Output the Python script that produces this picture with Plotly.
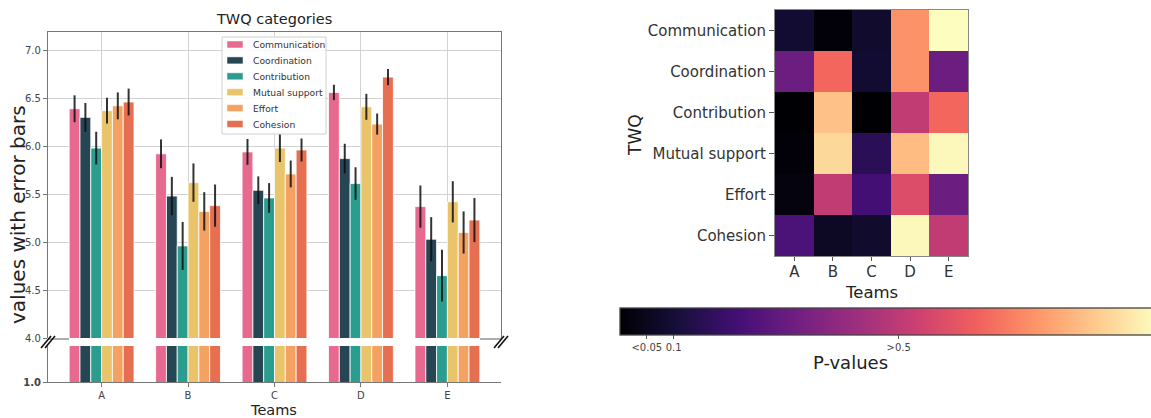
import plotly.graph_objects as go

W, H = 1151, 418

teams = ['A', 'B', 'C', 'D', 'E']
series_names = ['Communication', 'Coordination', 'Contribution', 'Mutual support', 'Effort', 'Cohesion']
communication = [6.39, 5.92, 5.94, 6.56, 5.37]
communication_err = [0.14, 0.15, 0.135, 0.08, 0.22]
coordination = [6.30, 5.48, 5.54, 5.87, 5.03]
coordination_err = [0.15, 0.20, 0.145, 0.155, 0.23]
contribution = [5.98, 4.96, 5.46, 5.61, 4.65]
contribution_err = [0.17, 0.25, 0.155, 0.17, 0.27]
mutual_support = [6.37, 5.62, 5.98, 6.41, 5.42]
mutual_support_err = [0.135, 0.20, 0.145, 0.135, 0.215]
effort = [6.42, 5.32, 5.71, 6.23, 5.10]
effort_err = [0.14, 0.20, 0.14, 0.11, 0.22]
cohesion = [6.46, 5.38, 5.96, 6.72, 5.23]
cohesion_err = [0.14, 0.22, 0.12, 0.085, 0.23]
series_colors = ['#e8698f', '#264653', '#2a9d8f', '#e9c46a', '#f4a261', '#e76f51']

twq_rows = ['Communication', 'Coordination', 'Contribution', 'Mutual support', 'Effort', 'Cohesion']
p_communication = [0.09, 0.01, 0.08, 0.77, 1.00]
p_coordination = [0.32, 0.68, 0.09, 0.77, 0.32]
p_contribution = [0.00, 0.87, 0.00, 0.53, 0.68]
p_mutual_support = [0.01, 0.92, 0.16, 0.86, 0.99]
p_effort = [0.02, 0.53, 0.22, 0.60, 0.32]
p_cohesion = [0.24, 0.06, 0.08, 0.99, 0.53]
cbar_tickvals = [0.05, 0.1, 0.52]
cbar_ticktext = ['<0.05', '0.1', '>0.5']

values = [communication, coordination, contribution, mutual_support, effort, cohesion]
errors = [communication_err, coordination_err, contribution_err, mutual_support_err, effort_err, cohesion_err]
pmatrix = [p_communication, p_coordination, p_contribution, p_mutual_support, p_effort, p_cohesion]


def px(x):
    return x / W


def py(y):
    return (H - y) / H


FONT = 'DejaVu Sans'
fig = go.Figure()

for name, v, e, c in zip(series_names, values, errors, series_colors):
    fig.add_trace(go.Bar(
        x=teams, y=v, name=name, marker=dict(color=c, line=dict(color='white', width=0.8)),
        error_y=dict(type='data', array=e, color='rgba(15,15,15,0.85)', thickness=2, width=0),
        xaxis='x', yaxis='y', showlegend=False))
for name, v, c in zip(series_names, values, series_colors):
    fig.add_trace(go.Bar(
        x=teams, y=v, name=name, marker=dict(color=c, line=dict(color='white', width=0.8)),
        xaxis='x2', yaxis='y2', showlegend=False, hoverinfo='skip'))

fig.add_trace(go.Heatmap(
    z=pmatrix, x=teams, y=twq_rows, colorscale='Magma', zmin=0, zmax=1,
    xaxis='x3', yaxis='y3', xgap=0, ygap=0,
    colorbar=dict(orientation='h', x=px(620), xanchor='left', y=py(308), yanchor='top',
                  lenmode='pixels', len=536, thickness=27, xpad=0, ypad=0,
                  outlinewidth=1.3, outlinecolor='#444',
                  tickvals=cbar_tickvals, ticktext=cbar_ticktext, ticks='outside', ticklen=4,
                  tickcolor='#555', tickfont=dict(family=FONT, size=10, color='#444'))))

xr = [-0.62, 4.62]
dom_x = [px(48), px(501)]
fig.update_layout(
    width=W, height=H, margin=dict(l=0, r=0, t=0, b=0, autoexpand=False),
    paper_bgcolor='white', plot_bgcolor='white',
    barmode='group', bargap=0.25, bargroupgap=0, showlegend=False,
    font=dict(family=FONT, color='#333'),
    xaxis=dict(domain=dom_x, anchor='y', type='category', range=xr, side='top',
               showticklabels=False, ticks='', showline=True, linecolor='#777', linewidth=1.2,
               showgrid=True, gridcolor='#d3d3d3', gridwidth=1, zeroline=False),
    yaxis=dict(domain=[py(338), py(32)], anchor='x', range=[4.0, 7.19],
               tickvals=[4.0, 4.5, 5.0, 5.5, 6.0, 6.5, 7.0], tickformat='.1f',
               ticks='outside', ticklen=4, tickcolor='#777',
               tickfont=dict(family=FONT, size=10, color='#444'),
               showline=True, mirror=True, linecolor='#777', linewidth=1.2,
               showgrid=True, gridcolor='#d3d3d3', gridwidth=1, zeroline=False),
    xaxis2=dict(domain=dom_x, anchor='y2', type='category', range=xr,
                ticks='outside', ticklen=4, tickcolor='#777',
                tickfont=dict(family=FONT, size=10, color='#444'),
                showline=True, linecolor='#777', linewidth=1.2, showgrid=False, zeroline=False),
    yaxis2=dict(domain=[py(382), py(346)], anchor='x2', range=[1.0, 4.0],
                tickvals=[1.0], ticktext=['<b>1.0</b>'],
                ticks='outside', ticklen=4, tickcolor='#777',
                tickfont=dict(family=FONT, size=10, color='#444'),
                showline=True, linecolor='#777', linewidth=1.2, showgrid=False, zeroline=False),
    xaxis3=dict(domain=[px(775), px(968)], anchor='y3', type='category',
                ticks='outside', ticklen=4, tickcolor='#555', ticklabelstandoff=-2,
                tickfont=dict(family=FONT, size=15, color='#333'),
                showline=True, mirror=True, linecolor='#888', linewidth=1, showgrid=False, zeroline=False),
    yaxis3=dict(domain=[py(256), py(10)], anchor='x3', type='category', autorange='reversed',
                ticks='outside', ticklen=5, tickcolor='#555',
                tickfont=dict(family=FONT, size=15, color='#333'),
                showline=True, mirror=True, linecolor='#888', linewidth=1, showgrid=False, zeroline=False),
)

annos = [
    dict(text='TWQ categories', x=px(274), y=py(19), size=14.5),
    dict(text='values with error bars', x=px(18), y=py(215), size=20, textangle=-90),
    dict(text='Teams', x=px(273), y=py(410), size=14.5),
    dict(text='Teams', x=px(871), y=py(292), size=16.5),
    dict(text='TWQ', x=px(635), y=py(135), size=17, textangle=-90),
    dict(text='P-values', x=px(850), y=py(362), size=18),
]
for a in annos:
    fig.add_annotation(text=a['text'], x=a['x'], y=a['y'], xref='paper', yref='paper',
                       showarrow=False, xanchor='center', yanchor='middle',
                       textangle=a.get('textangle', 0),
                       font=dict(family=FONT, size=a['size'], color='#222'))

# legend box drawn manually (matplotlib style)
fig.add_shape(type='rect', xref='paper', yref='paper', layer='above',
              x0=px(222), x1=px(326), y0=py(134), y1=py(37),
              fillcolor='rgba(255,255,255,0.85)', line=dict(color='#d0d0d0', width=1))
row_y0 = 44.5
row_dy = 15.9
for i, (name, c) in enumerate(zip(series_names, series_colors)):
    yc = row_y0 + i * row_dy
    fig.add_shape(type='rect', xref='paper', yref='paper', layer='above',
                  x0=px(227), x1=px(243), y0=py(yc + 3.5), y1=py(yc - 3.5),
                  fillcolor=c, line=dict(color='white', width=0.5))
    fig.add_annotation(text=name, x=px(251), y=py(yc), xref='paper', yref='paper',
                       showarrow=False, xanchor='left', yanchor='middle',
                       font=dict(family=FONT, size=9.2, color='#333'))

# short spine pieces at the break and the break marks
shapes = [
    dict(x0=px(48), x1=px(69), y0=py(339), y1=py(339), color='#777', w=1.2),
    dict(x0=px(480), x1=px(501), y0=py(339), y1=py(339), color='#777', w=1.2),
]
for cx in (48, 501):
    for off in (-2, 2):
        shapes.append(dict(x0=px(cx + off - 5), x1=px(cx + off + 5), y0=py(348), y1=py(336), color='#111', w=1.6))
for s in shapes:
    fig.add_shape(type='line', xref='paper', yref='paper', x0=s['x0'], x1=s['x1'], y0=s['y0'], y1=s['y1'],
                  line=dict(color=s['color'], width=s['w']))

fig.write_html('out.html', config={'displayModeBar': False},
               post_script="document.body.style.margin='0px';document.body.style.padding='0px';")
